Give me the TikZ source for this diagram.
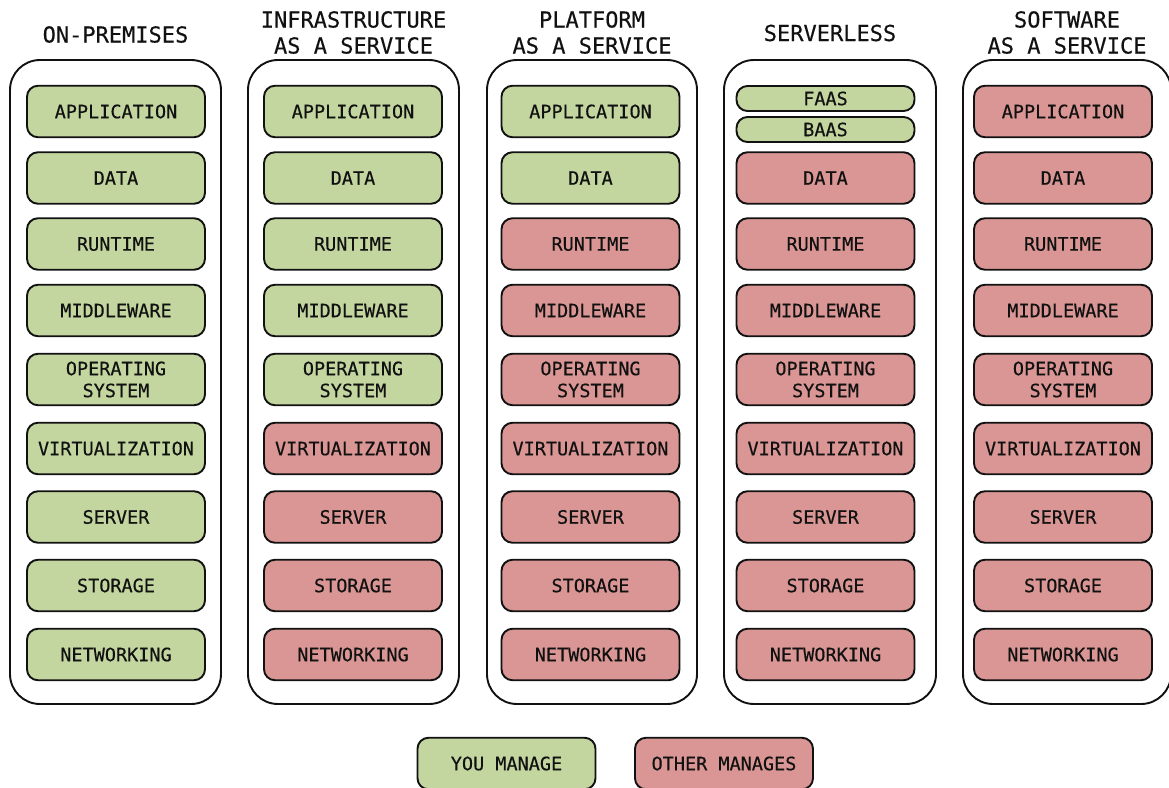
\documentclass[tikz,border=0pt]{standalone}
\usepackage{fontspec}
\setmainfont[UprightFeatures={FakeBold=0.35}]{DejaVu Sans Mono}
\definecolor{gmanage}{RGB}{196,214,160}
\definecolor{omanage}{RGB}{217,150,148}
\definecolor{inkc}{RGB}{17,17,17}
\begin{document}
\begin{tikzpicture}[x=1pt,y=-1pt,
  lay/.style={draw=inkc, line width=1.9pt, rounded corners=11pt, minimum width=178pt,
    minimum height=51.5pt, inner sep=0pt, align=center, text=inkc,
    font=\fontsize{18.5}{22}\selectfont},
  thin/.style={lay, minimum height=25pt, rounded corners=11pt, fill=gmanage},
  colbox/.style={draw=inkc, line width=1.9pt, rounded corners=30pt, inner sep=0pt,
    minimum height=644pt},
  ttl/.style={align=center, text=inkc, font=\fontsize{22}{26}\selectfont}]
\useasboundingbox (0,0) rectangle (1169,787);

% column containers
\node[colbox, minimum width=211pt] (col1) at (115.5,382) {};
\node[colbox, minimum width=211pt] (col2) at (353.5,382) {};
\node[colbox, minimum width=210pt] (col3) at (592,382) {};
\node[colbox, minimum width=212pt] (col4) at (830,382) {};
\node[colbox, minimum width=208pt] (col5) at (1067,382) {};

% titles
\node[ttl] (t1) at (115.5,34.5) {ON-PREMISES};
\node[ttl] (t2) at (353.5,32.5) {INFRASTRUCTURE\\AS A SERVICE};
\node[ttl] (t3) at (592,32.5) {PLATFORM\\AS A SERVICE};
\node[ttl] (t4) at (830,33) {SERVERLESS};
\node[ttl] (t5) at (1067,32.5) {SOFTWARE\\AS A SERVICE};

% layers
\foreach \c/\x/\g in {1/116/9, 2/353/5, 3/590.5/2, 5/1063/0} {
  \foreach \i/\y/\t in {1/111.5/APPLICATION, 2/178/DATA, 3/244/RUNTIME,
      4/310.5/MIDDLEWARE, 5/379.5/{OPERATING\\SYSTEM}, 6/448.5/VIRTUALIZATION,
      7/517/SERVER, 8/585.5/STORAGE, 9/654.5/NETWORKING} {
    \ifnum\i>\g \def\fc{omanage}\else \def\fc{gmanage}\fi
    \node[lay, fill=\fc] (c\c r\i) at (\x,\y) {\t};
  }
}
% serverless column
\node[thin] (c4faas) at (825.5,98.5) {FAAS};
\node[thin] (c4baas) at (825.5,129.5) {BAAS};
\foreach \i/\y/\t in {2/178/DATA, 3/244/RUNTIME,
    4/310.5/MIDDLEWARE, 5/379.5/{OPERATING\\SYSTEM}, 6/448.5/VIRTUALIZATION,
    7/517/SERVER, 8/585.5/STORAGE, 9/654.5/NETWORKING} {
  \node[lay, fill=omanage] (c4r\i) at (825.5,\y) {\t};
}

% legend
\node[lay, fill=gmanage] (legyou) at (506.5,763.5) {YOU MANAGE};
\node[lay, fill=omanage] (legoth) at (724,763.5) {OTHER MANAGES};
\end{tikzpicture}
\end{document}
